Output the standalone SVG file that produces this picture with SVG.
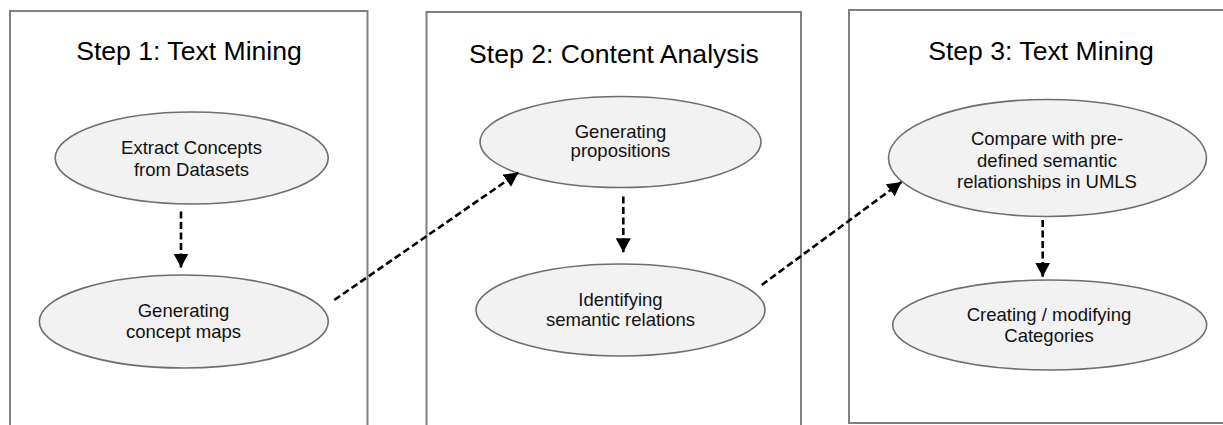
<svg xmlns="http://www.w3.org/2000/svg" width="1223" height="425" viewBox="0 0 1223 425">
<style>
.box{fill:none;stroke:#808080;stroke-width:2}
.node{fill:#f2f2f2;stroke:#6e6e6e;stroke-width:1.6}
.title{font-family:"Liberation Sans",Arial,sans-serif;font-size:26.6px;fill:#000;text-anchor:middle}
.lbl{font-family:"Liberation Sans",Arial,sans-serif;font-size:18.5px;fill:#111;text-anchor:middle}
.edge{fill:none;stroke:#000;stroke-width:2.6;stroke-dasharray:7 3.5}
</style>
<defs>
<marker id="ah" viewBox="0 0 14 15" refX="14" refY="7.5" markerWidth="14" markerHeight="15" markerUnits="userSpaceOnUse" orient="auto">
<path d="M0,0 L14,7.5 L0,15 Z" fill="#000"/>
</marker>
<clipPath id="clip5"><rect x="880" y="90" width="340" height="99.5"/></clipPath>
</defs>
<g id="step1">
<rect class="box" x="10" y="11" width="357.5" height="430"/>
<text class="title" x="189" y="60">Step 1: Text Mining</text>
</g>
<g id="step2">
<rect class="box" x="426.5" y="12" width="374.5" height="430"/>
<text class="title" x="614" y="63">Step 2: Content Analysis</text>
</g>
<g id="step3">
<rect class="box" x="849" y="10" width="390" height="413"/>
<text class="title" x="1041" y="60">Step 3: Text Mining</text>
</g>
<g id="n1">
<ellipse class="node" cx="191.7" cy="158" rx="136.5" ry="46"/>
<text class="lbl" x="191.5" y="154">Extract Concepts</text>
<text class="lbl" x="191.5" y="176">from Datasets</text>
</g>
<g id="n2">
<ellipse class="node" cx="183.8" cy="321.5" rx="144.5" ry="46.5"/>
<text class="lbl" x="183.5" y="317">Generating</text>
<text class="lbl" x="183.5" y="337.5">concept maps</text>
</g>
<g id="n3">
<ellipse class="node" cx="620.5" cy="142" rx="140.5" ry="45.5"/>
<text class="lbl" x="620.5" y="138">Generating</text>
<text class="lbl" x="620.5" y="157">propositions</text>
</g>
<g id="n4">
<ellipse class="node" cx="620.5" cy="310" rx="144.5" ry="46"/>
<text class="lbl" x="620.5" y="306">Identifying</text>
<text class="lbl" x="620.5" y="326">semantic relations</text>
</g>
<g id="n5">
<ellipse class="node" cx="1047.5" cy="158" rx="159" ry="58.5"/>
<g clip-path="url(#clip5)">
<text class="lbl" x="1047" y="145">Compare with pre-</text>
<text class="lbl" x="1047" y="166.5">defined semantic</text>
<text class="lbl" x="1047" y="187.5">relationships in UMLS</text>
</g>
</g>
<g id="n6">
<ellipse class="node" cx="1049.7" cy="325" rx="157" ry="45"/>
<text class="lbl" x="1049" y="320.5">Creating / modifying</text>
<text class="lbl" x="1049" y="342">Categories</text>
</g>
<g id="connectors">
<line class="edge" x1="181" y1="211.5" x2="181" y2="267.5" marker-end="url(#ah)"/>
<line class="edge" x1="334.3" y1="300" x2="518.3" y2="172.7" marker-end="url(#ah)"/>
<line class="edge" x1="623.3" y1="196.5" x2="623.3" y2="252.3" marker-end="url(#ah)"/>
<line class="edge" x1="761.7" y1="285" x2="901.5" y2="182" marker-end="url(#ah)"/>
<line class="edge" x1="1042.7" y1="220" x2="1042.7" y2="276.7" marker-end="url(#ah)"/>
</g>
</svg>
